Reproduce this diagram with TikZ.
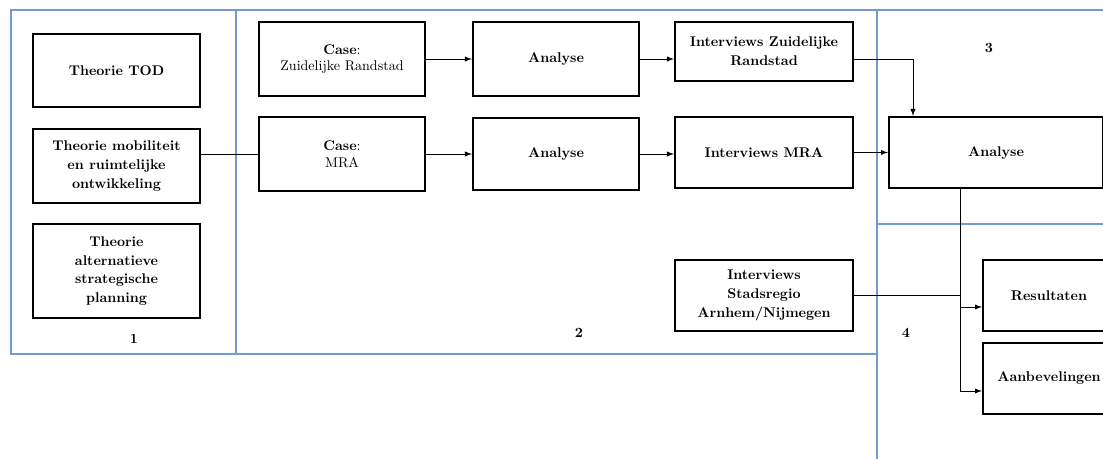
\documentclass[tikz,border=0pt]{standalone}
\usepackage{tikz}
\definecolor{panelblue}{RGB}{112,154,209}

\begin{document}
\begin{tikzpicture}[
    box/.style={draw,ultra thick,align=center,inner sep=2pt,
      font=\bfseries\linespread{1.12}\selectfont},
    panel/.style={draw=panelblue,line width=1.8pt},
    link/.style={line width=0.7pt},
    arrow/.style={line width=0.7pt,-latex}]
      \clip (0,0) rectangle (27.575,11.45);

      \draw[panel] (0.275,2.6) rectangle (5.9,11.2);
      \draw[panel] (5.9,2.6) rectangle (21.925,11.2);
      \draw[panel] (21.925,5.85) rectangle (28,11.2);
      \draw[panel] (21.925,-1) rectangle (28,5.85);

      \node[box,minimum width=4.175cm,minimum height=1.825cm] (tod) at (2.9125,9.6875) {Theorie TOD};
      \node[box,minimum width=4.175cm,minimum height=1.85cm] (mobiliteit) at (2.9125,7.3) {Theorie mobiliteit\\en ruimtelijke\\ontwikkeling};
      \node[box,minimum width=4.175cm,minimum height=2.35cm] (alternatief) at (2.9125,4.675) {Theorie\\alternatieve\\strategische\\planning};

      \node[box,font=\normalfont,minimum width=4.15cm,minimum height=1.85cm] (casezr) at (8.55,9.975) {\textbf{Case}:\\Zuidelijke Randstad};
      \node[box,font=\normalfont,minimum width=4.15cm,minimum height=1.85cm] (casemra) at (8.55,7.6) {\textbf{Case}:\\MRA};
      \node[box,minimum width=4.15cm,minimum height=1.85cm] (analysezr) at (13.9,9.975) {Analyse};
      \node[box,minimum width=4.15cm,minimum height=1.8cm] (analysemra) at (13.9,7.6) {Analyse};

      \node[box,minimum width=4.45cm,minimum height=1.475cm] (intzr) at (19.1,10.1625) {Interviews Zuidelijke\\Randstad};
      \node[box,minimum width=4.45cm,minimum height=1.775cm] (intmra) at (19.1,7.6375) {Interviews MRA};
      \node[box,minimum width=4.45cm,minimum height=1.775cm] (stadsregio) at (19.1,4.0625) {Interviews\\Stadsregio\\Arnhem/Nijmegen};

      \node[box,minimum width=5.35cm,minimum height=1.775cm] (analyse) at (24.9,7.6375) {Analyse};
      \node[box,minimum width=3.3cm,minimum height=1.775cm] (resultaten) at (26.225,4.0625) {Resultaten};
      \node[box,minimum width=3.3cm,minimum height=1.775cm] (aanbevelingen) at (26.225,1.9875) {Aanbevelingen};

      \node[font=\bfseries] (nr1) at (3.35,2.975) {1};
      \node[font=\bfseries] (nr2) at (14.475,3.125) {2};
      \node[font=\bfseries] (nr3) at (24.725,10.25) {3};
      \node[font=\bfseries] (nr4) at (22.65,3.125) {4};

      \coordinate (knik) at (22.825,9.975);
      \coordinate (splits) at (24.0,0);
      \coordinate (tak1) at (24.0,3.775);
      \coordinate (tak2) at (24.0,1.675);

      \draw[link] (mobiliteit.east |- casemra.west) -- (casemra.west);
      \draw[arrow] (casezr.east) -- (analysezr.west);
      \draw[arrow] (analysezr.east) -- (analysezr.east -| intzr.west);
      \draw[arrow] (casemra.east) -- (analysemra.west);
      \draw[arrow] (analysemra.east) -- (analysemra.east -| intmra.west);
      \draw[arrow] (intmra.east) -- (intmra.east -| analyse.west);
      \draw[arrow] (knik -| intzr.east) -- (knik) -- (knik |- analyse.north);

      \draw[link] (splits |- analyse.south) -- (tak2);
      \draw[arrow] (tak1) -- (tak1 -| resultaten.west);
      \draw[arrow] (tak2) -- (tak2 -| aanbevelingen.west);
      \draw[link] (stadsregio.east) -- (stadsregio.east -| splits);
    \end{tikzpicture}
\end{document}
